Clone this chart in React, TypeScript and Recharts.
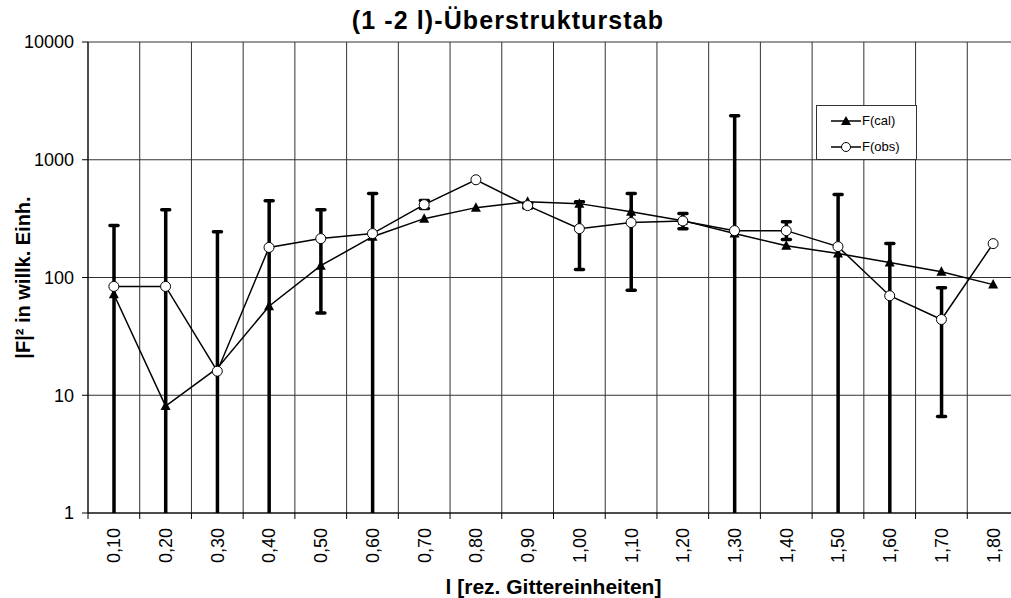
import React from "react";
import {
  ComposedChart,
  Line,
  Bar,
  XAxis,
  YAxis,
  CartesianGrid,
  Legend,
  Label,
} from "recharts";

const categories = [
  "0,10", "0,20", "0,30", "0,40", "0,50", "0,60", "0,70", "0,80", "0,90",
  "1,00", "1,10", "1,20", "1,30", "1,40", "1,50", "1,60", "1,70", "1,80",
];
const fCal = [72, 8.1, 17, 57, 126, 222, 316, 392, 440, 424, 362, 304, 236, 186, 160, 134, 112, 87];
const fObs = [84, 84, 16, 180, 214, 236, 416, 676, 408, 260, 293, 302, 250, 250, 183, 70, 44, 194];
// upper / lower end of each F(obs) error bar; null = no bar, 1 = bar runs off the bottom of the axis
const obsHigh = [276, 377, 245, 448, 377, 516, 450, null, 425, 440, 516, 349, 2360, 298, 506, 194, 82, null];
const obsLow = [1, 1, 1, 1, 50, 1, 385, null, 390, 117, 78, 260, 1, 210, 1, 1, 6.6, null];
const yTicks = [1, 10, 100, 1000, 10000];

const FONT = "'Liberation Sans', Arial, Helvetica, sans-serif";
const CHART_W = 1040;
const CHART_H = 598;
const Y_AXIS_W = 88;
const MARGIN_R = 21;
const BAND = (CHART_W - Y_AXIS_W - MARGIN_R) / categories.length;

const data = categories.map((name, i) => ({
  name,
  cal: fCal[i],
  obs: fObs[i],
  obsRange: obsHigh[i] == null ? null : [obsLow[i], obsHigh[i]],
}));

function XTick(props: any) {
  const { x, y, payload } = props;
  return (
    <g>
      <line x1={x - BAND / 2} x2={x - BAND / 2} y1={y} y2={y + 6} stroke="#000" />
      <text
        x={x}
        y={y + 15}
        transform={`rotate(-90 ${x} ${y + 15})`}
        textAnchor="end"
        dy="0.36em"
        fontSize={18}
        fontFamily={FONT}
        fill="#000"
      >
        {payload.value}
      </text>
    </g>
  );
}

function ErrorShape(props: any) {
  const { x, y, width, height, payload } = props;
  if (x == null || y == null || !payload?.obsRange) return null;
  const cx = x + width / 2;
  const noLowCap = payload.obsRange[0] <= 1;
  return (
    <g stroke="#000" strokeWidth={3.5} strokeLinecap="round">
      <line x1={cx} x2={cx} y1={y} y2={y + height} strokeLinecap="butt" />
      <line x1={cx - 4} x2={cx + 4} y1={y} y2={y} />
      {!noLowCap && <line x1={cx - 4} x2={cx + 4} y1={y + height} y2={y + height} />}
    </g>
  );
}

function Triangle(props: any) {
  const { cx, cy, index } = props;
  if (cx == null || cy == null) return null;
  return (
    <path
      key={`tri-${index}`}
      d={`M${cx},${cy - 5.5} L${cx + 5},${cy + 4} L${cx - 5},${cy + 4} Z`}
      fill="#000"
    />
  );
}

function LegendBox() {
  const row = (y: number, label: string, tri: boolean) => (
    <div style={{ position: "absolute", left: 0, top: y - 9, height: 18, width: 100 }}>
      <svg width={32} height={18} style={{ position: "absolute", left: 13, top: 0 }}>
        <line x1={1} x2={31} y1={9} y2={9} stroke="#000" strokeWidth={1.5} />
        {tri ? (
          <path d="M16,4 L21,13 L11,13 Z" fill="#000" />
        ) : (
          <circle cx={16} cy={9} r={4.5} fill="#fff" stroke="#000" strokeWidth={1} />
        )}
      </svg>
      <span style={{ position: "absolute", left: 45, top: 0, lineHeight: "18px", fontSize: 13 }}>
        {label}
      </span>
    </div>
  );
  return (
    <div
      style={{
        position: "relative",
        width: 101,
        height: 55,
        border: "1px solid #333",
        background: "#fff",
        boxSizing: "border-box",
        fontFamily: FONT,
        color: "#000",
      }}
    >
      {row(15, "F(cal)", true)}
      {row(41, "F(obs)", false)}
    </div>
  );
}

export default function App() {
  return (
    <div
      style={{
        position: "absolute",
        left: 0,
        top: 0,
        width: 1011,
        height: 598,
        overflow: "hidden",
        background: "#fff",
        fontFamily: FONT,
      }}
    >
      <div
        style={{
          position: "absolute",
          left: 0,
          top: 6,
          width: 1016,
          textAlign: "center",
          fontSize: 25,
          fontWeight: "bold",
          letterSpacing: 1.1,
          zIndex: 2,
        }}
      >
        (1 -2 l)-Überstrukturstab
      </div>
      <ComposedChart
        width={CHART_W}
        height={CHART_H}
        data={data}
        margin={{ top: 42, right: MARGIN_R, left: 0, bottom: 0 }}
      >
        <CartesianGrid
          stroke="#333"
          strokeWidth={1}
          verticalCoordinatesGenerator={({ offset }: any) =>
            categories
              .map((_, i) => offset.left + (i * offset.width) / categories.length)
              .concat(offset.left + offset.width)
          }
        />
        <XAxis
          dataKey="name"
          interval={0}
          height={85}
          tickSize={0}
          tickMargin={0}
          tick={<XTick />}
          axisLine={{ stroke: "#000" }}
        >
          <Label
            value="l [rez. Gittereinheiten]"
            position="insideBottom"
            offset={4}
            fontSize={21}
            fontWeight="bold"
            fontFamily={FONT}
            fill="#000"
          />
        </XAxis>
        <YAxis
          scale="log"
          domain={[1, 10000]}
          ticks={yTicks}
          allowDataOverflow
          width={Y_AXIS_W}
          tickSize={6}
          tickMargin={8}
          tick={{ fontSize: 18, fill: "#000", fontFamily: FONT }}
          tickLine={{ stroke: "#000" }}
          axisLine={{ stroke: "#000" }}
        >
          <Label
            value="|F|² in willk. Einh."
            angle={-90}
            position="insideLeft"
            offset={23}
            fontSize={20}
            fontWeight="bold"
            fontFamily={FONT}
            fill="#000"
            style={{ textAnchor: "middle" }}
          />
        </YAxis>
        <Legend
          layout="vertical"
          align="center"
          verticalAlign="middle"
          wrapperStyle={{ left: 816, top: 105, width: 101, height: 55 }}
          content={() => <LegendBox />}
        />
        {/* F(obs) error bars, drawn first so the markers sit on top */}
        <Bar
          dataKey="obsRange"
          barSize={10}
          shape={<ErrorShape />}
          legendType="none"
          isAnimationActive={false}
        />
        <Line
          type="linear"
          dataKey="cal"
          name="F(cal)"
          stroke="#000"
          strokeWidth={1.5}
          dot={<Triangle />}
          activeDot={false}
          isAnimationActive={false}
        />
        <Line
          type="linear"
          dataKey="obs"
          name="F(obs)"
          stroke="#000"
          strokeWidth={1.5}
          dot={{ r: 5, fill: "#fff", stroke: "#000", strokeWidth: 1 }}
          activeDot={false}
          isAnimationActive={false}
        />
      </ComposedChart>
    </div>
  );
}
